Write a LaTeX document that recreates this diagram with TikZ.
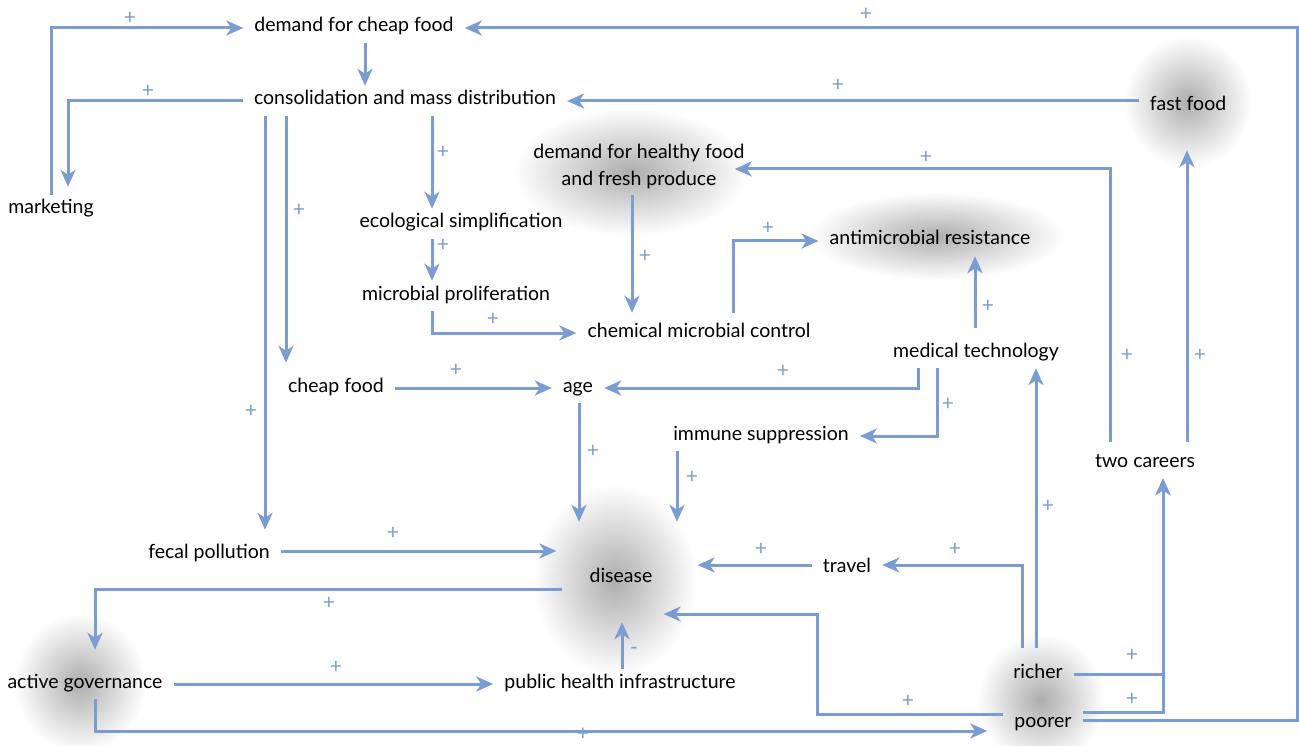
\documentclass[tikz,border=0pt]{standalone}
\usepackage{fontspec}
\setmainfont{Lato}
\usetikzlibrary{arrows.meta}
\definecolor{link}{HTML}{7B9CD2}
\tikzstyle{base}=[inner xsep=11pt,inner ysep=6pt,font=\fontsize{19.5}{27}\selectfont]
\tikzstyle{var}=[base,text height=13pt,text depth=5pt]
\tikzstyle{arr}=[-{Stealth[length=17pt,width=15pt,inset=5pt]},draw=link,line width=3pt]
\tikzstyle{sgn}=[text=link,inner sep=0pt,font=\fontsize{21}{21}\selectfont]
\tikzstyle{glow}=[inner color=black!32,outer color=white]

\begin{document}
\begin{tikzpicture}[x=1pt,y=-1pt]
  \useasboundingbox (0,0) rectangle (1299,746);
  % glows behind the key variables
  \shade[glow] (1188,102) ellipse (64pt and 66pt);
  \shade[glow] (631,172) ellipse (118pt and 64pt);
  \shade[glow] (937,236) ellipse (128pt and 44pt);
  \shade[glow] (615,580) ellipse (82pt and 96pt);
  \shade[glow] (80,683) ellipse (66pt and 70pt);
  \shade[glow] (1041,700) ellipse (64pt and 66pt);

  \node[var] (cheapdemand) at (354,28) {demand for cheap food};
  \node[var] (consol) at (405,101) {consolidation and mass distribution};
  \node[var] (marketing) at (51,210) {marketing};
  \node[base,align=center] (healthy) at (639,166) {demand for healthy food\\and fresh produce};
  \node[var] (fastfood) at (1188,107) {fast food};
  \node[var] (ecosimp) at (461,224) {ecological simplification};
  \node[var] (prolif) at (456,296) {microbial proliferation};
  \node[var] (amr) at (930,241) {antimicrobial resistance};
  \node[var] (chemctrl) at (699,333) {chemical microbial control};
  \node[var] (medtech) at (976,353) {medical technology};
  \node[var] (cheapfood) at (336,388) {cheap food};
  \node[var] (age) at (578,388) {age};
  \node[var] (immune) at (761,436) {immune suppression};
  \node[var] (twocareers) at (1145,463) {two careers};
  \node[var] (fecal) at (209,554) {fecal pollution};
  \node[var] (disease) at (621,578) {disease};
  \node[var] (travel) at (847,568) {travel};
  \node[var] (governance) at (85,684) {active governance};
  \node[var] (publich) at (620,684) {public health infrastructure};
  \node[var] (richer) at (1038,674) {richer};
  \node[var] (poorer) at (1043,723) {poorer};
  \coordinate (rim) at (1297,28);
  \coordinate (pbend) at (817,614);

  \draw[arr] (marketing.north) |- (cheapdemand.west);
  \draw[arr] ([xshift=11pt]cheapdemand.south) -- ([xshift=11pt]cheapdemand.south |- consol.north);
  \draw[arr] (consol.west) -| ([xshift=17pt,yshift=8pt]marketing.north);
  \draw[arr] ([yshift=3pt]poorer.east) -| (rim) -- (cheapdemand.east);
  \draw[arr] (fastfood.west |- consol.east) -- (consol.east);
  \draw[arr] ([xshift=27pt]consol.south) -- ([xshift=27pt]consol.south |- ecosimp.north);
  \draw[arr] ([xshift=-119pt]consol.south) -- ([xshift=-119pt,yshift=10pt]consol.south |- cheapfood.north);
  \draw[arr] ([xshift=-140pt]consol.south) -- ([xshift=-140pt,yshift=9pt]consol.south |- fecal.north);
  \draw[arr] ([xshift=-29pt]ecosimp.south) -- ([xshift=-29pt]ecosimp.south |- prolif.north);
  \draw[arr] ([xshift=-24pt]prolif.south) |- (chemctrl.west);
  \draw[arr] ([xshift=-7pt]healthy.south) -- ([xshift=-7pt,yshift=5pt]healthy.south |- chemctrl.north);
  \draw[arr] ([xshift=34pt,yshift=5pt]chemctrl.north) |- (amr.west);
  \draw[arr] ([xshift=-1pt,yshift=10pt]medtech.north) -- ([xshift=-1pt]medtech.north |- amr.south);
  \draw[arr] ([xshift=-35pt,yshift=6pt]twocareers.north) |- ([xshift=-21pt,yshift=-3pt]healthy.east);
  \draw[arr] ([xshift=42pt,yshift=6pt]twocareers.north) -- ([xshift=42pt,yshift=-28pt]twocareers.north |- fastfood.south);
  \draw[arr] (cheapfood.east) -- (age.west);
  \draw[arr] ([xshift=-58pt]medtech.south) |- (age.east);
  \draw[arr] ([xshift=-39pt]medtech.south) |- (immune.east);
  \draw[arr] ([xshift=1pt]age.south) -- ([xshift=1pt,yshift=41pt]age.south |- disease.north);
  \draw[arr] ([xshift=-84pt]immune.south) -- ([xshift=-84pt,yshift=41pt]immune.south |- disease.north);
  \draw[arr] ([yshift=3pt]fecal.east) -- ([xshift=-22pt,yshift=3pt]fecal.east -| disease.west);
  \draw[arr] ([yshift=3pt]travel.west) -- ([xshift=34pt,yshift=3pt]travel.west -| disease.east);
  \draw[arr] ([xshift=-16pt,yshift=11pt]richer.north) |- ([yshift=3pt]travel.east);
  \draw[arr] ([xshift=-2pt,yshift=11pt]richer.north) -- ([xshift=-2pt]richer.north |- medtech.south);
  \draw[arr] ([yshift=9pt]poorer.west) -| (pbend) -- (pbend -| disease.east);
  \draw[arr] ([xshift=2pt]publich.north) -- ([xshift=2pt,yshift=-29pt]publich.north |- disease.south);
  \draw[arr] ([xshift=-16pt,yshift=-11pt]disease.west) -| ([xshift=10pt,yshift=19pt]governance.north);
  \draw[arr] (governance.east) -- (publich.west);
  \draw[arr] ([xshift=10pt]governance.south) |- ([xshift=-16pt,yshift=-8pt]poorer.west);
  \draw[arr] (richer.east) -| ([xshift=18pt]twocareers.south);
  \draw[arr] ([yshift=11pt]poorer.east) -| ([xshift=18pt]twocareers.south);

  % polarity of the links
  \foreach \sx/\sy [count=\i] in {130/18,148/91,866/14,838/85,443/152,299/210,251/411,
      443/245,493/319,645/256,768/228,988/306,926/157,1127/355,1200/355,456/370,783/371,
      948/404,593/451,692/477,393/533,761/549,955/549,1048/506,908/701,329/603,336/667,
      583/734,1132/655,1132/699}
    \node[sgn] (s\i) at (\sx,\sy) {+};
  \node[sgn] (minus) at (634,651) {-};
\end{tikzpicture}
\end{document}
